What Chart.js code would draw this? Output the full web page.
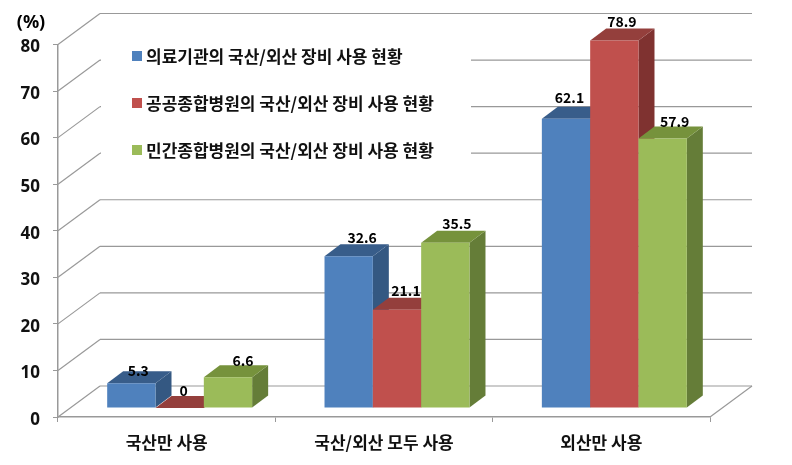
<!DOCTYPE html>
<html>
<head>
<meta charset="utf-8">
<style>
    html, body { margin: 0; padding: 0; background: #fff; }
    #wrap { width: 792px; height: 465px; }
</style>
<script src="https://cdn.jsdelivr.net/npm/chart.js@4/dist/chart.umd.min.js"></script>
</head>
<body>
<div id="wrap"><canvas id="graph1" width="792" height="465"></canvas></div>
<script>
const categories = ['국산만 사용', '국산/외산 모두 사용', '외산만 사용'];
const seriesNames = [
    '의료기관의 국산/외산 장비 사용 현황',
    '공공종합병원의 국산/외산 장비 사용 현황',
    '민간종합병원의 국산/외산 장비 사용 현황'
];
const institutions = [5.3, 32.6, 62.1];
const publicHospitals = [0, 21.1, 78.9];
const privateHospitals = [6.6, 35.5, 57.9];

const frontColors = ['#4f81bd', '#c0504d', '#9bbb59'];
const topColors = ['#385d8a', '#943f3c', '#76923c'];
const sideColors = ['#345882', '#7f3230', '#657d38'];

const gridColor = '#999999';
const krFont = '"Noto Sans CJK KR", "Noto Sans", sans-serif';

// the 3d look: back wall offset and bar depth, in pixels
const wallX = 42, wallY = 31;
const barShiftX = 13, barShiftY = 9;
const depthX = 16, depthY = 12;

// small nudges so each value label sits where it does in the picture
const labelNudge = [
    [[7, -13], [13.5, -19], [3.5, -21]],
    [[4, -17], [9, -19], [7.5, -19]],
    [[15, -17], [11.5, -19], [12, -17]]
];

function face(ctx, color, pts) {
    ctx.fillStyle = color;
    ctx.beginPath();
    ctx.moveTo(pts[0][0], pts[0][1]);
    for (let i = 1; i < pts.length; i++) {
        ctx.lineTo(pts[i][0], pts[i][1]);
    }
    ctx.closePath();
    ctx.fill();
}

function line(ctx, x1, y1, x2, y2) {
    ctx.beginPath();
    ctx.moveTo(x1, y1);
    ctx.lineTo(x2, y2);
    ctx.stroke();
}

function drawWall(chart) {
    const ctx = chart.ctx;
    const area = chart.chartArea;
    const yScale = chart.scales.y;
    ctx.save();
    ctx.strokeStyle = gridColor;
    ctx.lineWidth = 1.2;
    yScale.ticks.forEach(function (tick) {
        const y = yScale.getPixelForValue(tick.value);
        line(ctx, area.left, y, area.left + wallX, y - wallY);
        line(ctx, area.left + wallX, y - wallY, area.right + wallX, y - wallY);
    });
    // right edge of the floor
    line(ctx, area.right, area.bottom, area.right + wallX, area.bottom - wallY);
    // legend box hides the wall lines behind it
    ctx.fillStyle = '#ffffff';
    ctx.fillRect(area.left + wallX + 1, 25, 370, 150);
    ctx.restore();
}

function drawLegend(chart) {
    const ctx = chart.ctx;
    ctx.save();
    ctx.font = 'bold 17px ' + krFont;
    ctx.textBaseline = 'middle';
    chart.data.datasets.forEach(function (ds, d) {
        const y = 56 + d * 47;
        ctx.fillStyle = ds.backgroundColor;
        ctx.fillRect(132, y - 5, 10, 10);
        ctx.fillStyle = '#111111';
        ctx.fillText(ds.label, 146, y + 1);
    });
    ctx.restore();
}

function drawBars(chart) {
    const ctx = chart.ctx;
    ctx.save();
    ctx.translate(barShiftX, -barShiftY);
    // left bar first, so the next bar covers its side face
    chart.data.datasets.forEach(function (ds, d) {
        const meta = chart.getDatasetMeta(d);
        meta.data.forEach(function (bar) {
            const left = bar.x - bar.width / 2;
            const right = bar.x + bar.width / 2;
            face(ctx, sideColors[d], [
                [right, bar.y], [right + depthX, bar.y - depthY],
                [right + depthX, bar.base - depthY], [right, bar.base]
            ]);
            face(ctx, topColors[d], [
                [left, bar.y], [left + depthX, bar.y - depthY],
                [right + depthX, bar.y - depthY], [right, bar.y]
            ]);
        });
        meta.controller.draw();
    });
    ctx.restore();
}

function drawLabels(chart) {
    const ctx = chart.ctx;
    ctx.save();
    ctx.fillStyle = '#000000';
    ctx.font = 'bold 14px ' + krFont;
    ctx.textAlign = 'center';
    ctx.textBaseline = 'middle';
    chart.data.datasets.forEach(function (ds, d) {
        chart.getDatasetMeta(d).data.forEach(function (bar, c) {
            const nudge = labelNudge[d][c];
            ctx.fillText(ds.data[c], bar.x + barShiftX + nudge[0], bar.y - barShiftY + nudge[1]);
        });
    });
    ctx.font = 'bold 18px "Noto Sans", sans-serif';
    ctx.fillText('(%)', 31, 23);
    ctx.restore();
}

const wall3d = {
    id: 'wall3d',
    beforeDatasetsDraw(chart) {
        drawWall(chart);
        drawLegend(chart);
        drawBars(chart);
        drawLabels(chart);
        return false;
    }
};

new Chart(document.getElementById('graph1').getContext('2d'), {
    type: 'bar',
    data: {
        labels: categories,
        datasets: [
            { label: seriesNames[0], data: institutions, backgroundColor: frontColors[0] },
            { label: seriesNames[1], data: publicHospitals, backgroundColor: frontColors[1] },
            { label: seriesNames[2], data: privateHospitals, backgroundColor: frontColors[2] }
        ]
    },
    options: {
        responsive: false,
        animation: false,
        clip: false,
        layout: { padding: { top: 44.5, right: 82, left: 0, bottom: 0 } },
        categoryPercentage: 0.667,
        barPercentage: 1,
        plugins: {
            legend: { display: false },
            tooltip: { enabled: false }
        },
        scales: {
            x: {
                grid: { drawOnChartArea: false, color: gridColor, tickLength: 5 },
                border: { color: gridColor, width: 1.5 },
                ticks: {
                    color: '#111111',
                    padding: 10,
                    maxRotation: 0,
                    font: { family: krFont, size: 17, weight: 'bold' }
                },
                afterFit(scale) { scale.height = 48; }
            },
            y: {
                min: 0,
                max: 80,
                grid: { drawOnChartArea: false, color: gridColor, tickLength: 5 },
                border: { color: gridColor, width: 1.5 },
                ticks: {
                    stepSize: 10,
                    color: '#111111',
                    padding: 13,
                    labelOffset: 3,
                    font: { family: '"Noto Sans", sans-serif', size: 17, weight: 'bold' }
                },
                afterFit(scale) { scale.width = 58; }
            }
        }
    },
    plugins: [wall3d]
});
</script>
</body>
</html>
